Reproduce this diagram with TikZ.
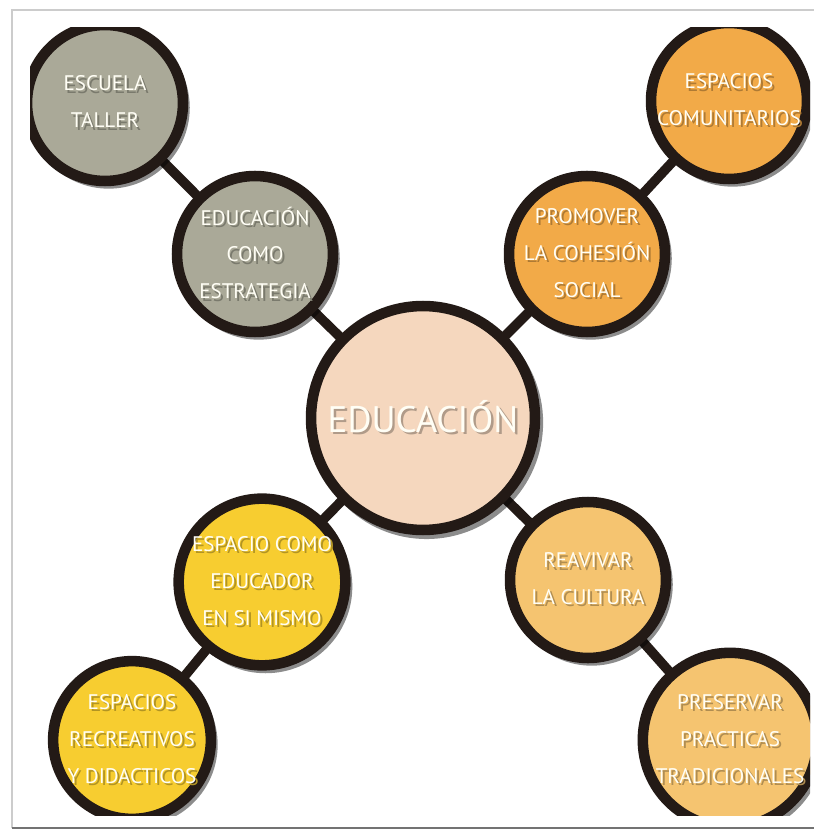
\documentclass[tikz,border=0pt]{standalone}
\usepackage{fontspec}
\setmainfont{PT Sans}
\usetikzlibrary{shadows,backgrounds}
\definecolor{borde}{RGB}{35,26,22}
\definecolor{gris}{RGB}{170,169,152}
\definecolor{naranja}{RGB}{242,170,72}
\definecolor{melocoton}{RGB}{245,215,190}
\definecolor{amarillo}{RGB}{247,205,48}
\definecolor{ocre}{RGB}{245,196,112}
\newcommand{\sombra}[1]{\makebox[0pt][l]{\hspace{1.3pt}\raisebox{-1.3pt}{\textcolor{shc}{#1}}}\textcolor{white!96!yellow}{#1}}

\begin{document}
\begin{tikzpicture}[x=0.02cm,y=-0.02cm]

	\tikzset{
	  burbuja/.style={
		circle,
		draw=borde,
		line width=6pt,
		fill=#1,
		minimum size=3.12cm,
		inner sep=0pt,
		align=center,
		font=\fontsize{12}{21}\selectfont,
		execute at begin node={\colorlet{shc}{#1!72!black}},
		drop shadow={shadow xshift=2pt,shadow yshift=-2.5pt,shadow scale=1.04,fill=black,opacity=0.45},
	  },
	  grande/.style={burbuja=#1,minimum size=4.48cm,font=\fontsize{21}{24}\selectfont},
	  enlace/.style={draw=borde,line width=5.5pt},
	}
	\useasboundingbox (0,0) rectangle (814,830);
	% marco
	\draw[color=black!20,line width=1.2pt] (12,828)--(12,10)--(814,10);
	\draw[color=black!55,line width=1.2pt] (12,828)--(814,828);

	\begin{scope}
		\clip (30,28) rectangle (810,815);
		\node[grande=melocoton] (edu) at (423,418) {\sombra{EDUCACIÓN}};
		\node[burbuja=gris] (estr) at (255,254) {\sombra{EDUCACIÓN}\\\sombra{COMO}\\\sombra{ESTRATEGIA}};
		\node[burbuja=gris] (esc) at (105,103) {\sombra{ESCUELA}\\\sombra{TALLER}};
		\node[burbuja=naranja] (prom) at (587,254) {\sombra{PROMOVER}\\\sombra{LA COHESIÓN}\\\sombra{SOCIAL}};
		\node[burbuja=naranja] (com) at (729,101) {\sombra{ESPACIOS}\\\sombra{COMUNITARIOS}};
		\node[burbuja=amarillo] (educ) at (262,582) {\sombra{ESPACIO COMO}\\\sombra{EDUCADOR}\\\sombra{EN SI MISMO}};
		\node[burbuja=amarillo] (recr) at (132,740) {\sombra{ESPACIOS}\\\sombra{RECREATIVOS}\\\sombra{Y DIDACTICOS}};
		\node[burbuja=ocre] (reav) at (588,580) {\sombra{REAVIVAR}\\\sombra{LA CULTURA}};
		\node[burbuja=ocre] (pres) at (730,740) {\sombra{PRESERVAR}\\\sombra{PRACTICAS}\\\sombra{TRADICIONALES}};
	\end{scope}

	\begin{pgfonlayer}{background}
		\draw[enlace] (edu.center)--(estr.center);
		\draw[enlace] (estr.center)--(esc.center);
		\draw[enlace] (edu.center)--(prom.center);
		\draw[enlace] (prom.center)--(com.center);
		\draw[enlace] (edu.center)--(educ.center);
		\draw[enlace] (educ.center)--(recr.center);
		\draw[enlace] (edu.center)--(reav.center);
		\draw[enlace] (reav.center)--(pres.center);
	\end{pgfonlayer}

\end{tikzpicture}
\end{document}
